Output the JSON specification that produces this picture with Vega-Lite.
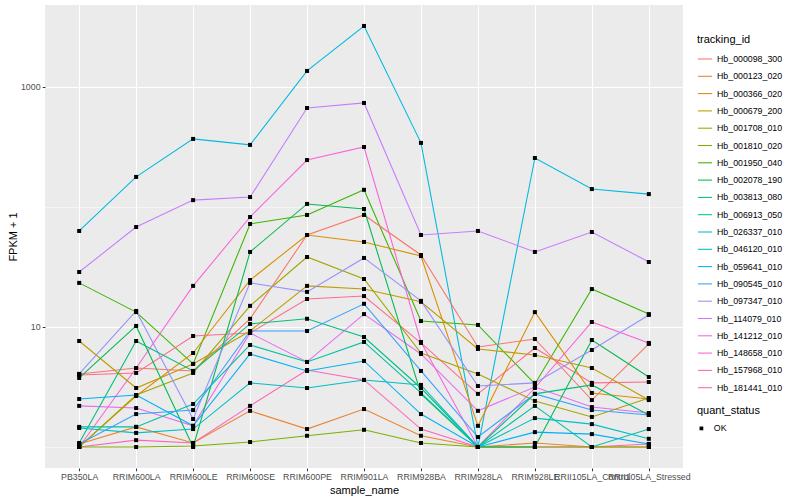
{
  "$schema": "https://vega.github.io/schema/vega-lite/v6.json",
  "width": 638,
  "height": 463,
  "autosize": "none",
  "padding": {"left": 45, "top": 5, "right": 117, "bottom": 32},
  "background": "white",
  "config": {
    "font": "Liberation Sans",
    "view": {"fill": "#EBEBEB", "stroke": null},
    "axis": {"domain": false, "labelColor": "#4D4D4D", "labelFontSize": 8.8, "tickColor": "#333333", "tickSize": 2.75, "tickWidth": 1, "titleFontSize": 11, "titleFontWeight": "normal", "titleColor": "black", "gridColor": "white"},
    "legend": {"titleFontSize": 11, "titleFontWeight": "normal", "titleColor": "black", "labelFontSize": 8.8, "labelColor": "black"}
  },
  "data": {"values": [
    {"tracking_id":"Hb_046120_010","sample_name":"PB350LA","FPKM":63.1,"quant_status":"OK"},
    {"tracking_id":"Hb_046120_010","sample_name":"RRIM600LA","FPKM":178,"quant_status":"OK"},
    {"tracking_id":"Hb_046120_010","sample_name":"RRIM600LE","FPKM":369,"quant_status":"OK"},
    {"tracking_id":"Hb_046120_010","sample_name":"RRIM600SE","FPKM":329,"quant_status":"OK"},
    {"tracking_id":"Hb_046120_010","sample_name":"RRIM600PE","FPKM":1360,"quant_status":"OK"},
    {"tracking_id":"Hb_046120_010","sample_name":"RRIM901LA","FPKM":3224,"quant_status":"OK"},
    {"tracking_id":"Hb_046120_010","sample_name":"RRIM928BA","FPKM":342,"quant_status":"OK"},
    {"tracking_id":"Hb_046120_010","sample_name":"RRIM928LA","FPKM":1,"quant_status":"OK"},
    {"tracking_id":"Hb_046120_010","sample_name":"RRIM928LE","FPKM":256,"quant_status":"OK"},
    {"tracking_id":"Hb_046120_010","sample_name":"RRII105LA_Control","FPKM":141,"quant_status":"OK"},
    {"tracking_id":"Hb_046120_010","sample_name":"RRII105LA_Stressed","FPKM":128,"quant_status":"OK"},

    {"tracking_id":"Hb_114079_010","sample_name":"PB350LA","FPKM":28.7,"quant_status":"OK"},
    {"tracking_id":"Hb_114079_010","sample_name":"RRIM600LA","FPKM":68.1,"quant_status":"OK"},
    {"tracking_id":"Hb_114079_010","sample_name":"RRIM600LE","FPKM":114,"quant_status":"OK"},
    {"tracking_id":"Hb_114079_010","sample_name":"RRIM600SE","FPKM":121,"quant_status":"OK"},
    {"tracking_id":"Hb_114079_010","sample_name":"RRIM600PE","FPKM":668,"quant_status":"OK"},
    {"tracking_id":"Hb_114079_010","sample_name":"RRIM901LA","FPKM":736,"quant_status":"OK"},
    {"tracking_id":"Hb_114079_010","sample_name":"RRIM928BA","FPKM":58.4,"quant_status":"OK"},
    {"tracking_id":"Hb_114079_010","sample_name":"RRIM928LA","FPKM":63.1,"quant_status":"OK"},
    {"tracking_id":"Hb_114079_010","sample_name":"RRIM928LE","FPKM":42.2,"quant_status":"OK"},
    {"tracking_id":"Hb_114079_010","sample_name":"RRII105LA_Control","FPKM":61.9,"quant_status":"OK"},
    {"tracking_id":"Hb_114079_010","sample_name":"RRII105LA_Stressed","FPKM":34.8,"quant_status":"OK"},

    {"tracking_id":"Hb_001950_040","sample_name":"PB350LA","FPKM":23.3,"quant_status":"OK"},
    {"tracking_id":"Hb_001950_040","sample_name":"RRIM600LA","FPKM":13.3,"quant_status":"OK"},
    {"tracking_id":"Hb_001950_040","sample_name":"RRIM600LE","FPKM":4.92,"quant_status":"OK"},
    {"tracking_id":"Hb_001950_040","sample_name":"RRIM600SE","FPKM":72.2,"quant_status":"OK"},
    {"tracking_id":"Hb_001950_040","sample_name":"RRIM600PE","FPKM":85.8,"quant_status":"OK"},
    {"tracking_id":"Hb_001950_040","sample_name":"RRIM901LA","FPKM":139,"quant_status":"OK"},
    {"tracking_id":"Hb_001950_040","sample_name":"RRIM928BA","FPKM":11.2,"quant_status":"OK"},
    {"tracking_id":"Hb_001950_040","sample_name":"RRIM928LA","FPKM":10.4,"quant_status":"OK"},
    {"tracking_id":"Hb_001950_040","sample_name":"RRIM928LE","FPKM":3.35,"quant_status":"OK"},
    {"tracking_id":"Hb_001950_040","sample_name":"RRII105LA_Control","FPKM":20.7,"quant_status":"OK"},
    {"tracking_id":"Hb_001950_040","sample_name":"RRII105LA_Stressed","FPKM":12.8,"quant_status":"OK"},

    {"tracking_id":"Hb_148658_010","sample_name":"PB350LA","FPKM":1,"quant_status":"OK"},
    {"tracking_id":"Hb_148658_010","sample_name":"RRIM600LA","FPKM":4.55,"quant_status":"OK"},
    {"tracking_id":"Hb_148658_010","sample_name":"RRIM600LE","FPKM":22.0,"quant_status":"OK"},
    {"tracking_id":"Hb_148658_010","sample_name":"RRIM600SE","FPKM":82.5,"quant_status":"OK"},
    {"tracking_id":"Hb_148658_010","sample_name":"RRIM600PE","FPKM":246,"quant_status":"OK"},
    {"tracking_id":"Hb_148658_010","sample_name":"RRIM901LA","FPKM":316,"quant_status":"OK"},
    {"tracking_id":"Hb_148658_010","sample_name":"RRIM928BA","FPKM":7.5,"quant_status":"OK"},
    {"tracking_id":"Hb_148658_010","sample_name":"RRIM928LA","FPKM":1,"quant_status":"OK"},
    {"tracking_id":"Hb_148658_010","sample_name":"RRIM928LE","FPKM":3.1,"quant_status":"OK"},
    {"tracking_id":"Hb_148658_010","sample_name":"RRII105LA_Control","FPKM":11.0,"quant_status":"OK"},
    {"tracking_id":"Hb_148658_010","sample_name":"RRII105LA_Stressed","FPKM":7.36,"quant_status":"OK"},

    {"tracking_id":"Hb_157968_010","sample_name":"PB350LA","FPKM":1,"quant_status":"OK"},
    {"tracking_id":"Hb_157968_010","sample_name":"RRIM600LA","FPKM":1.14,"quant_status":"OK"},
    {"tracking_id":"Hb_157968_010","sample_name":"RRIM600LE","FPKM":1.08,"quant_status":"OK"},
    {"tracking_id":"Hb_157968_010","sample_name":"RRIM600SE","FPKM":2.2,"quant_status":"OK"},
    {"tracking_id":"Hb_157968_010","sample_name":"RRIM600PE","FPKM":4.38,"quant_status":"OK"},
    {"tracking_id":"Hb_157968_010","sample_name":"RRIM901LA","FPKM":3.62,"quant_status":"OK"},
    {"tracking_id":"Hb_157968_010","sample_name":"RRIM928BA","FPKM":1.41,"quant_status":"OK"},
    {"tracking_id":"Hb_157968_010","sample_name":"RRIM928LA","FPKM":1,"quant_status":"OK"},
    {"tracking_id":"Hb_157968_010","sample_name":"RRIM928LE","FPKM":1,"quant_status":"OK"},
    {"tracking_id":"Hb_157968_010","sample_name":"RRII105LA_Control","FPKM":1,"quant_status":"OK"},
    {"tracking_id":"Hb_157968_010","sample_name":"RRII105LA_Stressed","FPKM":1.06,"quant_status":"OK"},

    {"tracking_id":"Hb_141212_010","sample_name":"PB350LA","FPKM":2.2,"quant_status":"OK"},
    {"tracking_id":"Hb_141212_010","sample_name":"RRIM600LA","FPKM":2.11,"quant_status":"OK"},
    {"tracking_id":"Hb_141212_010","sample_name":"RRIM600LE","FPKM":1.5,"quant_status":"OK"},
    {"tracking_id":"Hb_141212_010","sample_name":"RRIM600SE","FPKM":8.91,"quant_status":"OK"},
    {"tracking_id":"Hb_141212_010","sample_name":"RRIM600PE","FPKM":5.11,"quant_status":"OK"},
    {"tracking_id":"Hb_141212_010","sample_name":"RRIM901LA","FPKM":12.8,"quant_status":"OK"},
    {"tracking_id":"Hb_141212_010","sample_name":"RRIM928BA","FPKM":5.96,"quant_status":"OK"},
    {"tracking_id":"Hb_141212_010","sample_name":"RRIM928LA","FPKM":2.0,"quant_status":"OK"},
    {"tracking_id":"Hb_141212_010","sample_name":"RRIM928LE","FPKM":3.16,"quant_status":"OK"},
    {"tracking_id":"Hb_141212_010","sample_name":"RRII105LA_Control","FPKM":2.15,"quant_status":"OK"},
    {"tracking_id":"Hb_141212_010","sample_name":"RRII105LA_Stressed","FPKM":1.92,"quant_status":"OK"},

    {"tracking_id":"Hb_181441_010","sample_name":"PB350LA","FPKM":3.98,"quant_status":"OK"},
    {"tracking_id":"Hb_181441_010","sample_name":"RRIM600LA","FPKM":4.14,"quant_status":"OK"},
    {"tracking_id":"Hb_181441_010","sample_name":"RRIM600LE","FPKM":8.41,"quant_status":"OK"},
    {"tracking_id":"Hb_181441_010","sample_name":"RRIM600SE","FPKM":8.91,"quant_status":"OK"},
    {"tracking_id":"Hb_181441_010","sample_name":"RRIM600PE","FPKM":17.1,"quant_status":"OK"},
    {"tracking_id":"Hb_181441_010","sample_name":"RRIM901LA","FPKM":18.1,"quant_status":"OK"},
    {"tracking_id":"Hb_181441_010","sample_name":"RRIM928BA","FPKM":7.36,"quant_status":"OK"},
    {"tracking_id":"Hb_181441_010","sample_name":"RRIM928LA","FPKM":2.77,"quant_status":"OK"},
    {"tracking_id":"Hb_181441_010","sample_name":"RRIM928LE","FPKM":6.68,"quant_status":"OK"},
    {"tracking_id":"Hb_181441_010","sample_name":"RRII105LA_Control","FPKM":3.42,"quant_status":"OK"},
    {"tracking_id":"Hb_181441_010","sample_name":"RRII105LA_Stressed","FPKM":3.48,"quant_status":"OK"},

    {"tracking_id":"Hb_000098_300","sample_name":"PB350LA","FPKM":4.06,"quant_status":"OK"},
    {"tracking_id":"Hb_000098_300","sample_name":"RRIM600LA","FPKM":4.55,"quant_status":"OK"},
    {"tracking_id":"Hb_000098_300","sample_name":"RRIM600LE","FPKM":4.3,"quant_status":"OK"},
    {"tracking_id":"Hb_000098_300","sample_name":"RRIM600SE","FPKM":11.7,"quant_status":"OK"},
    {"tracking_id":"Hb_000098_300","sample_name":"RRIM600PE","FPKM":58.4,"quant_status":"OK"},
    {"tracking_id":"Hb_000098_300","sample_name":"RRIM901LA","FPKM":85.8,"quant_status":"OK"},
    {"tracking_id":"Hb_000098_300","sample_name":"RRIM928BA","FPKM":39.8,"quant_status":"OK"},
    {"tracking_id":"Hb_000098_300","sample_name":"RRIM928LA","FPKM":6.81,"quant_status":"OK"},
    {"tracking_id":"Hb_000098_300","sample_name":"RRIM928LE","FPKM":7.94,"quant_status":"OK"},
    {"tracking_id":"Hb_000098_300","sample_name":"RRII105LA_Control","FPKM":2.46,"quant_status":"OK"},
    {"tracking_id":"Hb_000098_300","sample_name":"RRII105LA_Stressed","FPKM":7.22,"quant_status":"OK"},

    {"tracking_id":"Hb_000366_020","sample_name":"PB350LA","FPKM":1,"quant_status":"OK"},
    {"tracking_id":"Hb_000366_020","sample_name":"RRIM600LA","FPKM":2.66,"quant_status":"OK"},
    {"tracking_id":"Hb_000366_020","sample_name":"RRIM600LE","FPKM":6.07,"quant_status":"OK"},
    {"tracking_id":"Hb_000366_020","sample_name":"RRIM600SE","FPKM":24.6,"quant_status":"OK"},
    {"tracking_id":"Hb_000366_020","sample_name":"RRIM600PE","FPKM":58.4,"quant_status":"OK"},
    {"tracking_id":"Hb_000366_020","sample_name":"RRIM901LA","FPKM":51.1,"quant_status":"OK"},
    {"tracking_id":"Hb_000366_020","sample_name":"RRIM928BA","FPKM":39.0,"quant_status":"OK"},
    {"tracking_id":"Hb_000366_020","sample_name":"RRIM928LA","FPKM":1.5,"quant_status":"OK"},
    {"tracking_id":"Hb_000366_020","sample_name":"RRIM928LE","FPKM":13.3,"quant_status":"OK"},
    {"tracking_id":"Hb_000366_020","sample_name":"RRII105LA_Control","FPKM":2.82,"quant_status":"OK"},
    {"tracking_id":"Hb_000366_020","sample_name":"RRII105LA_Stressed","FPKM":2.51,"quant_status":"OK"},

    {"tracking_id":"Hb_000679_200","sample_name":"PB350LA","FPKM":7.64,"quant_status":"OK"},
    {"tracking_id":"Hb_000679_200","sample_name":"RRIM600LA","FPKM":3.1,"quant_status":"OK"},
    {"tracking_id":"Hb_000679_200","sample_name":"RRIM600LE","FPKM":4.92,"quant_status":"OK"},
    {"tracking_id":"Hb_000679_200","sample_name":"RRIM600SE","FPKM":9.26,"quant_status":"OK"},
    {"tracking_id":"Hb_000679_200","sample_name":"RRIM600PE","FPKM":22.0,"quant_status":"OK"},
    {"tracking_id":"Hb_000679_200","sample_name":"RRIM901LA","FPKM":20.7,"quant_status":"OK"},
    {"tracking_id":"Hb_000679_200","sample_name":"RRIM928BA","FPKM":16.2,"quant_status":"OK"},
    {"tracking_id":"Hb_000679_200","sample_name":"RRIM928LA","FPKM":6.56,"quant_status":"OK"},
    {"tracking_id":"Hb_000679_200","sample_name":"RRIM928LE","FPKM":5.84,"quant_status":"OK"},
    {"tracking_id":"Hb_000679_200","sample_name":"RRII105LA_Control","FPKM":4.55,"quant_status":"OK"},
    {"tracking_id":"Hb_000679_200","sample_name":"RRII105LA_Stressed","FPKM":2.46,"quant_status":"OK"},

    {"tracking_id":"Hb_000123_020","sample_name":"PB350LA","FPKM":1.06,"quant_status":"OK"},
    {"tracking_id":"Hb_000123_020","sample_name":"RRIM600LA","FPKM":1.47,"quant_status":"OK"},
    {"tracking_id":"Hb_000123_020","sample_name":"RRIM600LE","FPKM":1.08,"quant_status":"OK"},
    {"tracking_id":"Hb_000123_020","sample_name":"RRIM600SE","FPKM":2.0,"quant_status":"OK"},
    {"tracking_id":"Hb_000123_020","sample_name":"RRIM600PE","FPKM":1.41,"quant_status":"OK"},
    {"tracking_id":"Hb_000123_020","sample_name":"RRIM901LA","FPKM":2.07,"quant_status":"OK"},
    {"tracking_id":"Hb_000123_020","sample_name":"RRIM928BA","FPKM":1.24,"quant_status":"OK"},
    {"tracking_id":"Hb_000123_020","sample_name":"RRIM928LA","FPKM":1,"quant_status":"OK"},
    {"tracking_id":"Hb_000123_020","sample_name":"RRIM928LE","FPKM":1.08,"quant_status":"OK"},
    {"tracking_id":"Hb_000123_020","sample_name":"RRII105LA_Control","FPKM":1,"quant_status":"OK"},
    {"tracking_id":"Hb_000123_020","sample_name":"RRII105LA_Stressed","FPKM":1,"quant_status":"OK"},

    {"tracking_id":"Hb_001810_020","sample_name":"PB350LA","FPKM":1,"quant_status":"OK"},
    {"tracking_id":"Hb_001810_020","sample_name":"RRIM600LA","FPKM":1,"quant_status":"OK"},
    {"tracking_id":"Hb_001810_020","sample_name":"RRIM600LE","FPKM":1.02,"quant_status":"OK"},
    {"tracking_id":"Hb_001810_020","sample_name":"RRIM600SE","FPKM":1.1,"quant_status":"OK"},
    {"tracking_id":"Hb_001810_020","sample_name":"RRIM600PE","FPKM":1.24,"quant_status":"OK"},
    {"tracking_id":"Hb_001810_020","sample_name":"RRIM901LA","FPKM":1.39,"quant_status":"OK"},
    {"tracking_id":"Hb_001810_020","sample_name":"RRIM928BA","FPKM":1.08,"quant_status":"OK"},
    {"tracking_id":"Hb_001810_020","sample_name":"RRIM928LA","FPKM":1,"quant_status":"OK"},
    {"tracking_id":"Hb_001810_020","sample_name":"RRIM928LE","FPKM":1,"quant_status":"OK"},
    {"tracking_id":"Hb_001810_020","sample_name":"RRII105LA_Control","FPKM":1,"quant_status":"OK"},
    {"tracking_id":"Hb_001810_020","sample_name":"RRII105LA_Stressed","FPKM":1,"quant_status":"OK"},

    {"tracking_id":"Hb_001708_010","sample_name":"PB350LA","FPKM":1,"quant_status":"OK"},
    {"tracking_id":"Hb_001708_010","sample_name":"RRIM600LA","FPKM":2.71,"quant_status":"OK"},
    {"tracking_id":"Hb_001708_010","sample_name":"RRIM600LE","FPKM":4.14,"quant_status":"OK"},
    {"tracking_id":"Hb_001708_010","sample_name":"RRIM600SE","FPKM":15.0,"quant_status":"OK"},
    {"tracking_id":"Hb_001708_010","sample_name":"RRIM600PE","FPKM":38.3,"quant_status":"OK"},
    {"tracking_id":"Hb_001708_010","sample_name":"RRIM901LA","FPKM":25.1,"quant_status":"OK"},
    {"tracking_id":"Hb_001708_010","sample_name":"RRIM928BA","FPKM":6.07,"quant_status":"OK"},
    {"tracking_id":"Hb_001708_010","sample_name":"RRIM928LA","FPKM":4.06,"quant_status":"OK"},
    {"tracking_id":"Hb_001708_010","sample_name":"RRIM928LE","FPKM":2.42,"quant_status":"OK"},
    {"tracking_id":"Hb_001708_010","sample_name":"RRII105LA_Control","FPKM":1.78,"quant_status":"OK"},
    {"tracking_id":"Hb_001708_010","sample_name":"RRII105LA_Stressed","FPKM":2.56,"quant_status":"OK"},

    {"tracking_id":"Hb_002078_190","sample_name":"PB350LA","FPKM":3.76,"quant_status":"OK"},
    {"tracking_id":"Hb_002078_190","sample_name":"RRIM600LA","FPKM":10.2,"quant_status":"OK"},
    {"tracking_id":"Hb_002078_190","sample_name":"RRIM600LE","FPKM":1,"quant_status":"OK"},
    {"tracking_id":"Hb_002078_190","sample_name":"RRIM600SE","FPKM":42.2,"quant_status":"OK"},
    {"tracking_id":"Hb_002078_190","sample_name":"RRIM600PE","FPKM":106,"quant_status":"OK"},
    {"tracking_id":"Hb_002078_190","sample_name":"RRIM901LA","FPKM":96.2,"quant_status":"OK"},
    {"tracking_id":"Hb_002078_190","sample_name":"RRIM928BA","FPKM":2.77,"quant_status":"OK"},
    {"tracking_id":"Hb_002078_190","sample_name":"RRIM928LA","FPKM":1,"quant_status":"OK"},
    {"tracking_id":"Hb_002078_190","sample_name":"RRIM928LE","FPKM":1,"quant_status":"OK"},
    {"tracking_id":"Hb_002078_190","sample_name":"RRII105LA_Control","FPKM":7.79,"quant_status":"OK"},
    {"tracking_id":"Hb_002078_190","sample_name":"RRII105LA_Stressed","FPKM":3.83,"quant_status":"OK"},

    {"tracking_id":"Hb_097347_010","sample_name":"PB350LA","FPKM":4.06,"quant_status":"OK"},
    {"tracking_id":"Hb_097347_010","sample_name":"RRIM600LA","FPKM":13.6,"quant_status":"OK"},
    {"tracking_id":"Hb_097347_010","sample_name":"RRIM600LE","FPKM":1.71,"quant_status":"OK"},
    {"tracking_id":"Hb_097347_010","sample_name":"RRIM600SE","FPKM":23.3,"quant_status":"OK"},
    {"tracking_id":"Hb_097347_010","sample_name":"RRIM600PE","FPKM":19.6,"quant_status":"OK"},
    {"tracking_id":"Hb_097347_010","sample_name":"RRIM901LA","FPKM":37.6,"quant_status":"OK"},
    {"tracking_id":"Hb_097347_010","sample_name":"RRIM928BA","FPKM":16.5,"quant_status":"OK"},
    {"tracking_id":"Hb_097347_010","sample_name":"RRIM928LA","FPKM":3.22,"quant_status":"OK"},
    {"tracking_id":"Hb_097347_010","sample_name":"RRIM928LE","FPKM":3.42,"quant_status":"OK"},
    {"tracking_id":"Hb_097347_010","sample_name":"RRII105LA_Control","FPKM":6.43,"quant_status":"OK"},
    {"tracking_id":"Hb_097347_010","sample_name":"RRII105LA_Stressed","FPKM":12.6,"quant_status":"OK"},

    {"tracking_id":"Hb_003813_080","sample_name":"PB350LA","FPKM":1.08,"quant_status":"OK"},
    {"tracking_id":"Hb_003813_080","sample_name":"RRIM600LA","FPKM":7.64,"quant_status":"OK"},
    {"tracking_id":"Hb_003813_080","sample_name":"RRIM600LE","FPKM":4.3,"quant_status":"OK"},
    {"tracking_id":"Hb_003813_080","sample_name":"RRIM600SE","FPKM":10.6,"quant_status":"OK"},
    {"tracking_id":"Hb_003813_080","sample_name":"RRIM600PE","FPKM":11.7,"quant_status":"OK"},
    {"tracking_id":"Hb_003813_080","sample_name":"RRIM901LA","FPKM":8.25,"quant_status":"OK"},
    {"tracking_id":"Hb_003813_080","sample_name":"RRIM928BA","FPKM":3.1,"quant_status":"OK"},
    {"tracking_id":"Hb_003813_080","sample_name":"RRIM928LA","FPKM":1,"quant_status":"OK"},
    {"tracking_id":"Hb_003813_080","sample_name":"RRIM928LE","FPKM":2.77,"quant_status":"OK"},
    {"tracking_id":"Hb_003813_080","sample_name":"RRII105LA_Control","FPKM":3.29,"quant_status":"OK"},
    {"tracking_id":"Hb_003813_080","sample_name":"RRII105LA_Stressed","FPKM":1.85,"quant_status":"OK"},

    {"tracking_id":"Hb_006913_050","sample_name":"PB350LA","FPKM":1.47,"quant_status":"OK"},
    {"tracking_id":"Hb_006913_050","sample_name":"RRIM600LA","FPKM":1.47,"quant_status":"OK"},
    {"tracking_id":"Hb_006913_050","sample_name":"RRIM600LE","FPKM":2.28,"quant_status":"OK"},
    {"tracking_id":"Hb_006913_050","sample_name":"RRIM600SE","FPKM":7.08,"quant_status":"OK"},
    {"tracking_id":"Hb_006913_050","sample_name":"RRIM600PE","FPKM":5.11,"quant_status":"OK"},
    {"tracking_id":"Hb_006913_050","sample_name":"RRIM901LA","FPKM":7.5,"quant_status":"OK"},
    {"tracking_id":"Hb_006913_050","sample_name":"RRIM928BA","FPKM":2.82,"quant_status":"OK"},
    {"tracking_id":"Hb_006913_050","sample_name":"RRIM928LA","FPKM":1,"quant_status":"OK"},
    {"tracking_id":"Hb_006913_050","sample_name":"RRIM928LE","FPKM":2.2,"quant_status":"OK"},
    {"tracking_id":"Hb_006913_050","sample_name":"RRII105LA_Control","FPKM":1,"quant_status":"OK"},
    {"tracking_id":"Hb_006913_050","sample_name":"RRII105LA_Stressed","FPKM":1.41,"quant_status":"OK"},

    {"tracking_id":"Hb_026337_010","sample_name":"PB350LA","FPKM":1.44,"quant_status":"OK"},
    {"tracking_id":"Hb_026337_010","sample_name":"RRIM600LA","FPKM":1.31,"quant_status":"OK"},
    {"tracking_id":"Hb_026337_010","sample_name":"RRIM600LE","FPKM":1.41,"quant_status":"OK"},
    {"tracking_id":"Hb_026337_010","sample_name":"RRIM600SE","FPKM":3.42,"quant_status":"OK"},
    {"tracking_id":"Hb_026337_010","sample_name":"RRIM600PE","FPKM":3.1,"quant_status":"OK"},
    {"tracking_id":"Hb_026337_010","sample_name":"RRIM901LA","FPKM":3.62,"quant_status":"OK"},
    {"tracking_id":"Hb_026337_010","sample_name":"RRIM928BA","FPKM":3.29,"quant_status":"OK"},
    {"tracking_id":"Hb_026337_010","sample_name":"RRIM928LA","FPKM":1,"quant_status":"OK"},
    {"tracking_id":"Hb_026337_010","sample_name":"RRIM928LE","FPKM":1.74,"quant_status":"OK"},
    {"tracking_id":"Hb_026337_010","sample_name":"RRII105LA_Control","FPKM":1.55,"quant_status":"OK"},
    {"tracking_id":"Hb_026337_010","sample_name":"RRII105LA_Stressed","FPKM":1.17,"quant_status":"OK"},

    {"tracking_id":"Hb_059641_010","sample_name":"PB350LA","FPKM":2.51,"quant_status":"OK"},
    {"tracking_id":"Hb_059641_010","sample_name":"RRIM600LA","FPKM":2.71,"quant_status":"OK"},
    {"tracking_id":"Hb_059641_010","sample_name":"RRIM600LE","FPKM":1.5,"quant_status":"OK"},
    {"tracking_id":"Hb_059641_010","sample_name":"RRIM600SE","FPKM":5.96,"quant_status":"OK"},
    {"tracking_id":"Hb_059641_010","sample_name":"RRIM600PE","FPKM":4.3,"quant_status":"OK"},
    {"tracking_id":"Hb_059641_010","sample_name":"RRIM901LA","FPKM":5.21,"quant_status":"OK"},
    {"tracking_id":"Hb_059641_010","sample_name":"RRIM928BA","FPKM":1.88,"quant_status":"OK"},
    {"tracking_id":"Hb_059641_010","sample_name":"RRIM928LA","FPKM":1,"quant_status":"OK"},
    {"tracking_id":"Hb_059641_010","sample_name":"RRIM928LE","FPKM":1.33,"quant_status":"OK"},
    {"tracking_id":"Hb_059641_010","sample_name":"RRII105LA_Control","FPKM":1.28,"quant_status":"OK"},
    {"tracking_id":"Hb_059641_010","sample_name":"RRII105LA_Stressed","FPKM":1.06,"quant_status":"OK"},

    {"tracking_id":"Hb_090545_010","sample_name":"PB350LA","FPKM":1.06,"quant_status":"OK"},
    {"tracking_id":"Hb_090545_010","sample_name":"RRIM600LA","FPKM":1.88,"quant_status":"OK"},
    {"tracking_id":"Hb_090545_010","sample_name":"RRIM600LE","FPKM":2.03,"quant_status":"OK"},
    {"tracking_id":"Hb_090545_010","sample_name":"RRIM600SE","FPKM":9.26,"quant_status":"OK"},
    {"tracking_id":"Hb_090545_010","sample_name":"RRIM600PE","FPKM":9.26,"quant_status":"OK"},
    {"tracking_id":"Hb_090545_010","sample_name":"RRIM901LA","FPKM":15.6,"quant_status":"OK"},
    {"tracking_id":"Hb_090545_010","sample_name":"RRIM928BA","FPKM":4.3,"quant_status":"OK"},
    {"tracking_id":"Hb_090545_010","sample_name":"RRIM928LA","FPKM":1.21,"quant_status":"OK"},
    {"tracking_id":"Hb_090545_010","sample_name":"RRIM928LE","FPKM":2.77,"quant_status":"OK"},
    {"tracking_id":"Hb_090545_010","sample_name":"RRII105LA_Control","FPKM":2.03,"quant_status":"OK"},
    {"tracking_id":"Hb_090545_010","sample_name":"RRII105LA_Stressed","FPKM":1.85,"quant_status":"OK"}
  ]},
  "encoding": {
    "x": {
      "field": "sample_name", "type": "nominal",
      "sort": ["PB350LA","RRIM600LA","RRIM600LE","RRIM600SE","RRIM600PE","RRIM901LA","RRIM928BA","RRIM928LA","RRIM928LE","RRII105LA_Control","RRII105LA_Stressed"],
      "scale": {"type": "point", "padding": 0.6},
      "axis": {"title": "sample_name", "labelAngle": 0, "labelOverlap": false, "labelPadding": 2.2, "grid": true, "gridWidth": 1.07, "titlePadding": 3}
    },
    "y": {
      "field": "FPKM", "type": "quantitative",
      "scale": {"type": "log", "domain": [0.668, 4820], "nice": false, "zero": false},
      "axis": {
        "title": "FPKM + 1",
        "values": [1, 10, 100, 1000],
        "labelExpr": "(datum.value == 10 || datum.value == 1000) ? format(datum.value, 'd') : ''",
        "gridWidth": {"condition": {"test": "datum.value == 10 || datum.value == 1000", "value": 1.07}, "value": 0.53},
        "tickOpacity": {"condition": {"test": "datum.value == 10 || datum.value == 1000", "value": 1}, "value": 0},
        "labelPadding": 2.2,
        "titlePadding": 2
      }
    }
  },
  "layer": [
    {
      "mark": {"type": "line", "strokeWidth": 1.07},
      "encoding": {
        "color": {
          "field": "tracking_id", "type": "nominal",
          "scale": {
            "domain": ["Hb_000098_300","Hb_000123_020","Hb_000366_020","Hb_000679_200","Hb_001708_010","Hb_001810_020","Hb_001950_040","Hb_002078_190","Hb_003813_080","Hb_006913_050","Hb_026337_010","Hb_046120_010","Hb_059641_010","Hb_090545_010","Hb_097347_010","Hb_114079_010","Hb_141212_010","Hb_148658_010","Hb_157968_010","Hb_181441_010"],
            "range": ["#F8766D","#EA8331","#D89000","#C09B00","#A3A500","#7CAE00","#39B600","#00BB4E","#00BF7D","#00C1A3","#00BFC4","#00BAE0","#00B0F6","#35A2FF","#9590FF","#C77CFF","#E76BF3","#FA62DB","#FF62BC","#FF6C91"]
          },
          "legend": {"title": "tracking_id", "orient": "none", "legendX": 652, "legendY": 29, "symbolType": "stroke", "symbolSize": 200, "symbolStrokeWidth": 1.07, "rowPadding": 4.3, "labelOffset": 4, "titlePadding": 6}
        }
      }
    },
    {
      "mark": {"type": "point", "filled": true, "color": "black", "size": 16, "opacity": 1},
      "encoding": {
        "shape": {
          "field": "quant_status", "type": "nominal",
          "scale": {"range": ["square"]},
          "legend": {"title": "quant_status", "orient": "none", "legendX": 652, "legendY": 400, "symbolFillColor": "black", "symbolStrokeColor": "black", "symbolSize": 14, "titlePadding": 8, "labelOffset": 8}
        }
      }
    }
  ]
}
